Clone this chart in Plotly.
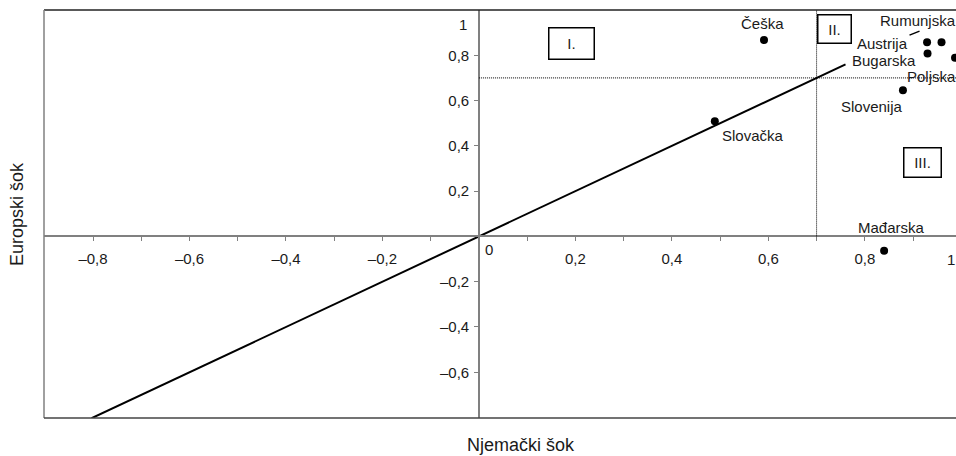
import plotly.graph_objects as go

# ---- data ----
countries = ["Češka", "Slovačka", "Slovenija", "Mađarska", "Austrija", "Rumunjska", "Bugarska", "Poljska"]
german_shock = [0.591, 0.489, 0.879, 0.840, 0.929, 0.959, 0.930, 0.987]
european_shock = [0.867, 0.509, 0.646, -0.063, 0.858, 0.858, 0.808, 0.789]

threshold = 0.7
diag_range = [-0.803, 0.76]

x_tick_vals = [-0.8, -0.6, -0.4, -0.2, 0.2, 0.4, 0.6, 0.8]
x_tick_text = ["–0,8", "–0,6", "–0,4", "–0,2", "0,2", "0,4", "0,6", "0,8"]
y_tick_vals = [-0.6, -0.4, -0.2, 0.2, 0.4, 0.6, 0.8]
y_tick_text = ["–0,6", "–0,4", "–0,2", "0,2", "0,4", "0,6", "0,8"]

quadrants = ["I.", "II.", "III."]
quad_x = [0.191, 0.738, 0.920]
quad_y = [0.854, 0.918, 0.328]

# ---- styling ----
FONT = "Liberation Sans, Arial, Helvetica, sans-serif"
TXT = "#1a1a1a"
GREY = "#808080"
FS = 15
TFS = 18
XR = [-0.9016, 0.989]
YR = [-0.802, 1.0]

# label offsets (pixels) per country: (xshift, yshift, xanchor)
label_off = {
    "Češka": (-2, 17, "center"),
    "Slovačka": (38, -14, "center"),
    "Slovenija": (-31, -16, "center"),
    "Mađarska": (7, 23, "center"),
    "Austrija": (-45, -1, "center"),
    "Rumunjska": (-64, 22, "left"),
    "Bugarska": (-44, -7, "center"),
    "Poljska": (-50, -19, "left"),
}
quad_size = {"I.": (42, 28), "II.": (30, 25), "III.": (34, 26)}

fig = go.Figure()

# diagonal y = x
fig.add_trace(go.Scatter(x=diag_range, y=diag_range, mode="lines",
                         line=dict(color="black", width=2), hoverinfo="skip",
                         showlegend=False))
# points
fig.add_trace(go.Scatter(x=german_shock, y=european_shock, mode="markers",
                         marker=dict(color="black", size=8),
                         text=countries, showlegend=False))

annotations = []
for c, xv, yv in zip(countries, german_shock, european_shock):
    xs, ys, xa = label_off[c]
    annotations.append(dict(x=xv, y=yv, xref="x", yref="y", text=c, showarrow=False,
                            xshift=xs, yshift=ys, xanchor=xa, yanchor="middle",
                            font=dict(family=FONT, size=FS, color=TXT)))

for q, qx, qy in zip(quadrants, quad_x, quad_y):
    w, h = quad_size[q]
    annotations.append(dict(x=qx, y=qy, xref="x", yref="y", text=q, showarrow=False,
                            width=w, height=h, bordercolor="black", borderwidth=1.5,
                            borderpad=1, bgcolor="white",
                            font=dict(family=FONT, size=FS, color=TXT)))

# special tick labels
annotations.append(dict(x=0, y=0, xref="x", yref="y", text="0", showarrow=False,
                        xshift=10, yshift=-13, font=dict(family=FONT, size=FS, color=TXT)))
annotations.append(dict(x=XR[1], y=0, xref="x", yref="y", text="1", showarrow=False,
                        xanchor="right", xshift=1, yshift=-23,
                        font=dict(family=FONT, size=FS, color=TXT)))
annotations.append(dict(x=0, y=1.0, xref="x", yref="y", text="1", showarrow=False,
                        xanchor="right", xshift=-10, yshift=-14,
                        font=dict(family=FONT, size=FS, color=TXT)))

# axis titles
annotations.append(dict(x=0.523, y=0, xref="paper", yref="paper", text="Njemački šok",
                        showarrow=False, yshift=-27, yanchor="middle",
                        font=dict(family=FONT, size=TFS, color=TXT)))
annotations.append(dict(x=0, y=0.5, xref="paper", yref="paper", text="Europski šok",
                        showarrow=False, xshift=-27, textangle=-90, xanchor="center",
                        font=dict(family=FONT, size=TFS, color=TXT)))

shapes = [
    # threshold dotted lines
    dict(type="line", xref="x", yref="y", x0=threshold, x1=threshold, y0=0, y1=YR[1],
         line=dict(color="black", width=1, dash="1px,1px")),
    dict(type="line", xref="x", yref="y", x0=0, x1=XR[1], y0=threshold, y1=threshold,
         line=dict(color="black", width=1, dash="1px,1px")),
    # Rumunjska leader
    dict(type="line", xref="x", yref="y", xsizemode="pixel", ysizemode="pixel",
         xanchor=german_shock[5], yanchor=european_shock[5],
         x0=-32, x1=-22, y0=7, y1=11, line=dict(color="black", width=1.5)),
    # frame
    dict(type="line", xref="paper", yref="paper", x0=0, x1=1, y0=1, y1=1,
         line=dict(color="#222", width=1.5)),
    dict(type="line", xref="paper", yref="paper", x0=0, x1=0, y0=0, y1=1,
         line=dict(color=GREY, width=1.5)),
    dict(type="line", xref="paper", yref="paper", x0=0, x1=1, y0=0, y1=0,
         line=dict(color="#444", width=1.5)),
]

fig.update_layout(
    width=956, height=456,
    margin=dict(l=44, r=0, t=10, b=38),
    paper_bgcolor="white", plot_bgcolor="white",
    font=dict(family=FONT, size=FS, color=TXT),
    annotations=annotations, shapes=shapes,
    xaxis=dict(range=XR, anchor="free", position=(0 - YR[0]) / (YR[1] - YR[0]),
               showgrid=False, zeroline=False, showline=True, linecolor=GREY, linewidth=1.5,
               ticks="outside", ticklen=4, tickcolor=GREY, tickwidth=1,
               ticklabelstandoff=5,
               tickvals=x_tick_vals, ticktext=x_tick_text,
               minor=dict(tickvals=[-0.7, -0.5, -0.3, -0.1, 0.1, 0.3, 0.5, 0.7, 0.9],
                          ticks="outside", ticklen=4, tickcolor=GREY),
               tickfont=dict(family=FONT, size=FS, color=TXT)),
    yaxis=dict(range=YR, anchor="free", position=(0 - XR[0]) / (XR[1] - XR[0]),
               showgrid=False, zeroline=False, showline=True, linecolor=GREY, linewidth=1.5,
               ticks="outside", ticklen=4, tickcolor=GREY, tickwidth=1,
               ticklabelstandoff=2,
               tickvals=y_tick_vals, ticktext=y_tick_text,
               tickfont=dict(family=FONT, size=FS, color=TXT)),
    hovermode=False,
)

fig.write_html("out.html", config={"displayModeBar": False},
               post_script="document.body.style.margin='0';document.body.style.overflow='hidden';")
